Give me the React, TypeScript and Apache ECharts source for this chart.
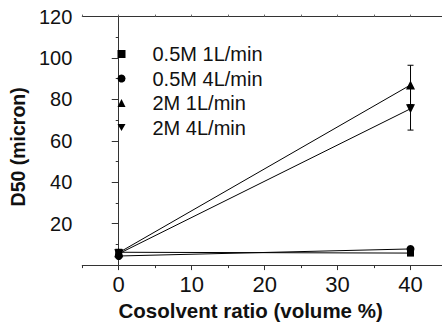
import { useEffect, useRef } from 'react';
import * as echarts from 'echarts';

// Cosolvent ratio (volume %) at which D50 was measured
const ratios = [0, 40];

// D50 (micron) per spray condition
const d50_05M_1L = [6.2, 5.8];
const d50_05M_4L = [4.4, 7.8];
const d50_2M_1L = [6.0, 87.0];
const d50_2M_4L = [5.5, 75.5];

// Standard deviations (micron)
const err_2M_1L = [0.4, 9.5];
const err_2M_4L = [0.4, 10.3];

const seriesNames = ['0.5M 1L/min', '0.5M 4L/min', '2M 1L/min', '2M 4L/min'];
const symbols = ['rect', 'circle', 'triangle', 'path://M0,0L10,0L5,9Z'];
const symbolSizes = [7, 8, 9, 9];

const FONT = "'Liberation Sans', Arial, Helvetica, sans-serif";
const INK = '#111';

// The x axis runs from -5 to 45; the plot is wider than the visible frame
// and the part beyond 44 is clipped by the outer box.
const FRAME_W = 442;
const FRAME_H = 326;
const CHART_W = 450;

export default function App() {
  const ref = useRef<HTMLDivElement>(null);

  useEffect(() => {
    if (!ref.current) return;
    const chart = echarts.init(ref.current, undefined, { renderer: 'svg' });

    const values = [d50_05M_1L, d50_05M_4L, d50_2M_1L, d50_2M_4L];
    const lineSeries = seriesNames.map((name, i) => ({
      name,
      type: 'line',
      xAxisIndex: 0,
      yAxisIndex: 0,
      data: ratios.map((r, j) => [r, values[i][j]]),
      symbol: symbols[i],
      symbolSize: symbolSizes[i],
      showSymbol: true,
      itemStyle: { color: '#000' },
      lineStyle: { color: '#000', width: 1 },
      z: 3,
    }));

    const errData: number[][] = [];
    [
      [d50_2M_1L, err_2M_1L],
      [d50_2M_4L, err_2M_4L],
    ].forEach(([v, e]) => {
      ratios.forEach((r, j) => errData.push([r, v[j] - e[j], v[j] + e[j]]));
    });

    const errorSeries = {
      type: 'custom',
      xAxisIndex: 0,
      yAxisIndex: 0,
      data: errData,
      encode: { x: 0, y: [1, 2] },
      z: 2,
      renderItem: (_p: any, api: any) => {
        const x = api.value(0);
        const top = api.coord([x, api.value(2)]);
        const bot = api.coord([x, api.value(1)]);
        const cap = 3;
        const style = { stroke: '#000', lineWidth: 1 };
        return {
          type: 'group',
          children: [
            { type: 'line', shape: { x1: top[0], y1: top[1], x2: bot[0], y2: bot[1] }, style },
            { type: 'line', shape: { x1: top[0] - cap, y1: top[1], x2: top[0] + cap, y2: top[1] }, style },
            { type: 'line', shape: { x1: bot[0] - cap, y1: bot[1], x2: bot[0] + cap, y2: bot[1] }, style },
          ],
        };
      },
    };

    const axisLine = { show: true, lineStyle: { color: '#333', width: 1 } };

    chart.setOption({
      animation: false,
      backgroundColor: '#fff',
      textStyle: { fontFamily: FONT },
      grid: { left: 79.5, right: CHART_W - 449.3, top: 16.6, bottom: 54.4, containLabel: false },
      legend: {
        orient: 'vertical',
        left: 117.5,
        top: 44,
        padding: 0,
        itemWidth: 8,
        itemHeight: 8,
        itemGap: 4.5,
        textStyle: { fontFamily: FONT, fontSize: 20, color: INK, lineHeight: 18, padding: [0, 0, 0, 22] },
        data: seriesNames.map((name, i) => ({ name, icon: symbols[i] })),
      },
      xAxis: [
        {
          // bottom axis line with major/minor ticks
          type: 'value',
          position: 'bottom',
          min: -5,
          max: 45,
          interval: 10,
          axisLine,
          axisTick: { show: true, length: 3, lineStyle: { color: '#333' } },
          minorTick: { show: true, splitNumber: 2, length: 5, lineStyle: { color: '#333' } },
          axisLabel: { show: false },
          splitLine: { show: false },
        },
        {
          // top frame line
          type: 'value',
          position: 'top',
          min: -5,
          max: 45,
          interval: 5,
          axisLine,
          axisTick: { show: true, length: 2, lineStyle: { color: '#666' } },
          axisLabel: { show: false },
          splitLine: { show: false },
        },
        {
          // tick labels and title
          type: 'value',
          position: 'bottom',
          min: -5,
          max: 45,
          interval: 5,
          axisLine: { show: false },
          axisTick: { show: false },
          splitLine: { show: false },
          axisLabel: {
            margin: 8,
            fontSize: 22,
            color: INK,
            fontFamily: FONT,
            formatter: (v: number) => (v >= 0 && v <= 40 && v % 10 === 0 ? String(v) : ''),
          },
          name: 'Cosolvent ratio (volume %)',
          nameLocation: 'middle',
          nameGap: 21,
          nameTextStyle: {
            fontSize: 20.5,
            fontWeight: 'bold',
            color: INK,
            fontFamily: FONT,
            padding: [0, 28, 0, 0],
          },
        },
      ],
      yAxis: {
        type: 'value',
        min: 0,
        max: 120,
        interval: 20,
        axisLine,
        axisTick: { show: true, length: 7, lineStyle: { color: '#333' } },
        minorTick: { show: true, splitNumber: 2, length: 3, lineStyle: { color: '#333' } },
        splitLine: { show: false },
        axisLabel: {
          margin: 10,
          fontSize: 20,
          color: INK,
          fontFamily: FONT,
          formatter: (v: number) => (v === 0 ? '' : String(v)),
        },
        name: 'D50 (micron)',
        nameLocation: 'middle',
        nameGap: 36,
        nameTextStyle: {
          fontSize: 19.5,
          fontWeight: 'bold',
          color: INK,
          fontFamily: FONT,
          padding: [0, 12, 0, 0],
        },
      },
      series: [...lineSeries, errorSeries],
    });

    return () => chart.dispose();
  }, []);

  return (
    <div
      style={{
        position: 'fixed',
        left: 0,
        top: 0,
        width: FRAME_W,
        height: FRAME_H,
        overflow: 'hidden',
        background: '#fff',
      }}
    >
      <div ref={ref} style={{ width: CHART_W, height: FRAME_H }} />
    </div>
  );
}
